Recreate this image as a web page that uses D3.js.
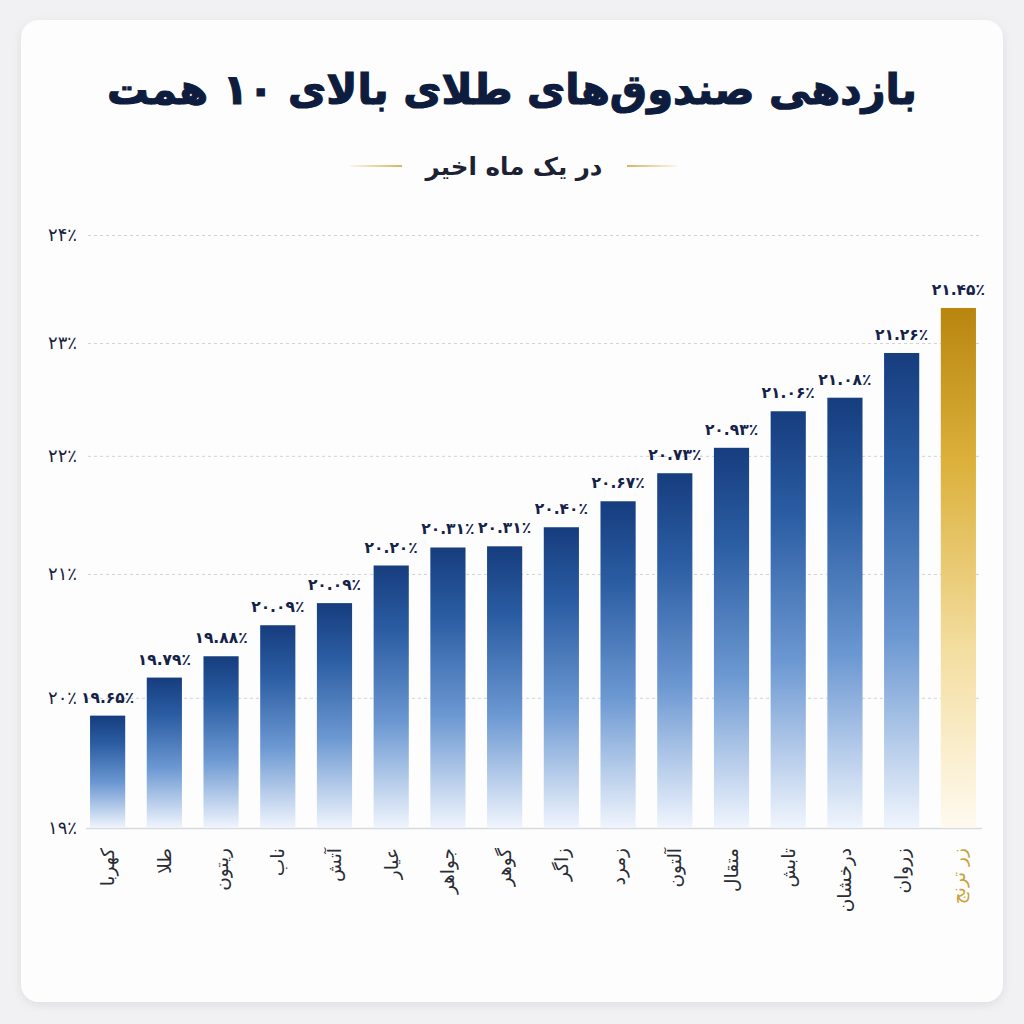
<!DOCTYPE html>
<html>
<head>
<meta charset="utf-8">
<script src="https://cdn.jsdelivr.net/npm/d3@7"></script>
<style>
  html, body { margin: 0; padding: 0; background: #f1f1f3; }
  svg { display: block; }
  text { font-family: "DejaVu Sans", "Noto Sans", sans-serif; }
</style>
</head>
<body>
<div id="chart"></div>
<script>
// fund names, left to right
const funds = ["کهربا", "طلا", "ریتون", "ناب", "آتش", "عیار", "جواهر", "گوهر",
  "زاگر", "زمرد", "آلتون", "متقال", "تابش", "درخشان", "زروان", "زر ترنج"];
// bar heights as read against the y axis (%)
const barValues = [19.86, 20.16, 20.33, 20.58, 20.76, 21.07, 21.22, 21.23,
  21.39, 21.61, 21.85, 22.07, 22.39, 22.51, 22.91, 23.32];
// value labels printed above the bars
const valueLabels = ["۱۹.۶۵٪", "۱۹.۷۹٪", "۱۹.۸۸٪", "۲۰.۰۹٪", "۲۰.۰۹٪", "۲۰.۲۰٪", "۲۰.۳۱٪", "۲۰.۳۱٪",
  "۲۰.۴۰٪", "۲۰.۶۷٪", "۲۰.۷۳٪", "۲۰.۹۳٪", "۲۱.۰۶٪", "۲۱.۰۸٪", "۲۱.۲۶٪", "۲۱.۴۵٪"];
const yTicks = [19, 20, 21, 22, 23, 24];
const highlight = "زر ترنج";

const width = 1024, height = 1024;
const faDigits = s => String(s).replace(/\d/g, d => "۰۱۲۳۴۵۶۷۸۹"[d]);

const svg = d3.select("#chart").append("svg")
  .attr("width", width)
  .attr("height", height)
  .attr("viewBox", [0, 0, width, height]);

const defs = svg.append("defs");

const shadow = defs.append("filter").attr("id", "shadow")
  .attr("x", "-5%").attr("y", "-5%").attr("width", "110%").attr("height", "110%");
shadow.append("feDropShadow").attr("dx", 0).attr("dy", 3).attr("stdDeviation", 5)
  .attr("flood-color", "#000").attr("flood-opacity", 0.08);

const blue = defs.append("linearGradient").attr("id", "blue")
  .attr("x1", 0).attr("y1", 0).attr("x2", 0).attr("y2", 1);
blue.append("stop").attr("offset", "0%").attr("stop-color", "#163d7e");
blue.append("stop").attr("offset", "25%").attr("stop-color", "#2b5da3");
blue.append("stop").attr("offset", "60%").attr("stop-color", "#6c98d2");
blue.append("stop").attr("offset", "100%").attr("stop-color", "#f0f5fd");

const gold = defs.append("linearGradient").attr("id", "gold")
  .attr("x1", 0).attr("y1", 0).attr("x2", 0).attr("y2", 1);
gold.append("stop").attr("offset", "0%").attr("stop-color", "#b8860f");
gold.append("stop").attr("offset", "30%").attr("stop-color", "#dcb13c");
gold.append("stop").attr("offset", "65%").attr("stop-color", "#f3dd9e");
gold.append("stop").attr("offset", "100%").attr("stop-color", "#fffaf0");

["lineL", "lineR"].forEach((id, i) => {
  const g = defs.append("linearGradient").attr("id", id);
  g.append("stop").attr("offset", "0%").attr("stop-color", "#d9b55a").attr("stop-opacity", i ? 1 : 0.1);
  g.append("stop").attr("offset", "100%").attr("stop-color", "#d9b55a").attr("stop-opacity", i ? 0.1 : 1);
});

// card
svg.append("rect")
  .attr("x", 21).attr("y", 20)
  .attr("width", 982).attr("height", 982)
  .attr("rx", 18)
  .attr("fill", "#fdfdfd")
  .attr("filter", "url(#shadow)");

// title
const title = svg.append("text")
  .attr("x", width / 2)
  .attr("y", 104)
  .attr("text-anchor", "middle")
  .attr("fill", "#0e1c3d")
  .attr("stroke", "#0e1c3d")
  .attr("stroke-width", 1.2)
  .attr("font-size", 44)
  .attr("font-weight", "bold")
  .text("بازدهی صندوق‌های طلای بالای ۱۰ همت");
const tw = title.node().getComputedTextLength();
if (tw > 0) title.attr("font-size", 44 * 810 / tw);

const sub = svg.append("text")
  .attr("x", width / 2 + 2)
  .attr("y", 175)
  .attr("text-anchor", "middle")
  .attr("fill", "#1c2233")
  .attr("font-size", 22)
  .attr("font-weight", "bold")
  .text("در یک ماه اخیر");
const sw = sub.node().getComputedTextLength();
if (sw > 0) sub.attr("font-size", 22 * 177 / sw);

svg.append("rect").attr("x", 350).attr("y", 165).attr("width", 52).attr("height", 2).attr("fill", "url(#lineL)");
svg.append("rect").attr("x", 627).attr("y", 165).attr("width", 50).attr("height", 2).attr("fill", "url(#lineR)");

// scales
const x = d3.scaleBand(funds, [78.7, 987.3])
  .paddingInner(0.38)
  .paddingOuter(0.2);

const y = d3.scaleLog([19, 24], [828, 235]);

// grid
const grid = svg.append("g")
  .attr("transform", "translate(88,0)")
  .call(d3.axisLeft(y).tickValues(yTicks.slice(1)).tickSize(-892).tickFormat(""));
grid.select(".domain").remove();
grid.selectAll("line")
  .attr("stroke", "#cfd2d8")
  .attr("stroke-dasharray", "3,3");

// y tick labels
svg.append("g")
  .selectAll("text")
  .data(yTicks)
  .join("text")
  .attr("x", 77)
  .attr("y", d => y(d))
  .attr("dy", "0.35em")
  .attr("text-anchor", "end")
  .attr("fill", "#18213f")
  .attr("font-size", 18)
  .text(d => faDigits(d) + "٪");

// baseline
svg.append("line")
  .attr("x1", 86).attr("x2", 982)
  .attr("y1", y(19) + 0.5).attr("y2", y(19) + 0.5)
  .attr("stroke", "#d8dade")
  .attr("stroke-width", 1.5);

const data = funds.map((f, i) => ({ fund: f, value: barValues[i], label: valueLabels[i] }));

svg.append("g")
  .selectAll("rect")
  .data(data)
  .join("rect")
  .attr("x", d => x(d.fund))
  .attr("y", d => y(d.value))
  .attr("width", x.bandwidth())
  .attr("height", d => y(19) - y(d.value))
  .attr("fill", d => d.fund === highlight ? "url(#gold)" : "url(#blue)");

svg.append("g")
  .selectAll("text")
  .data(data)
  .join("text")
  .attr("x", d => x(d.fund) + x.bandwidth() / 2)
  .attr("y", d => y(d.value) - 13)
  .attr("text-anchor", "middle")
  .attr("fill", "#14224a")
  .attr("font-size", 15.5)
  .attr("font-weight", "bold")
  .text(d => d.label);

// x labels
svg.append("g")
  .selectAll("text")
  .data(data)
  .join("text")
  .attr("transform", d => `translate(${x(d.fund) + x.bandwidth() / 2},848) rotate(-90)`)
  .attr("dy", "0.35em")
  .attr("text-anchor", "end")
  .attr("fill", d => d.fund === highlight ? "#c9a43c" : "#2a2d36")
  .attr("font-size", 18.5)
  .text(d => d.fund);
</script>
</body>
</html>
